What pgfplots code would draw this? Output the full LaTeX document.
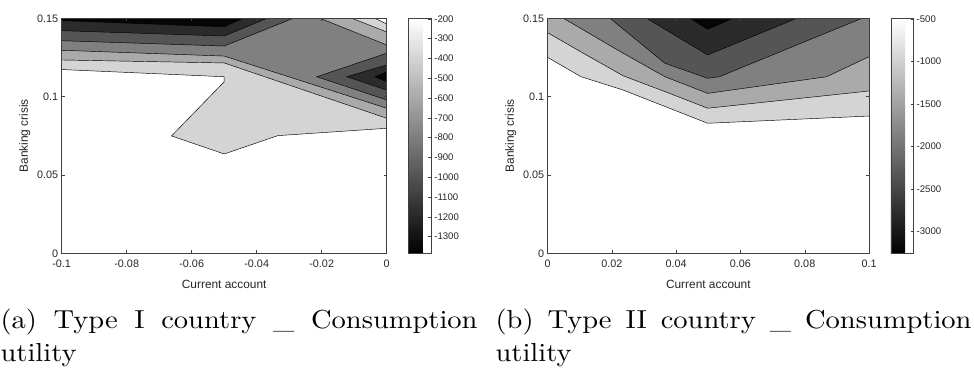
\documentclass[border=0pt]{standalone}
\usepackage{pgfplots}
\pgfplotsset{compat=1.18}
\usepackage{fontspec}
\newfontfamily\arial{Liberation Sans}

\definecolor{axgray}{HTML}{404040}
\definecolor{txt}{HTML}{262626}
% fill shades of the contour bands (light to dark)
\definecolor{lvA}{gray}{0.833}
\definecolor{lvB}{gray}{0.667}
\definecolor{lvC}{gray}{0.5}
\definecolor{lvD}{gray}{0.333}
\definecolor{lvE}{gray}{0.167}
\definecolor{lvF}{gray}{0.02}

\pgfplotsset{
  contourpanel/.style={
    scale only axis, height=235pt, axis on top,
    enlargelimits=false,
    axis line style={axgray, line width=0.5pt},
    tick style={axgray, line width=0.5pt},
    tick align=inside, major tick length=3.2pt, tick pos=both,
    ticklabel style={font=\arial\fontsize{10.8}{12}\selectfont, text=txt},
    xticklabel style={yshift=-3.5pt},
    label style={font=\arial\fontsize{11.9}{13}\selectfont, text=txt},
    xlabel style={yshift=-5pt},
    ymin=0, ymax=0.15,
    ytick={0,0.05,0.1,0.15}, yticklabels={0,0.05,0.1,0.15},
    ylabel={Banking crisis}, xlabel={Current account},
    colormap/blackwhite,
    colorbar,
    colorbar style={
      at={(parent axis.north east)}, anchor=north west, xshift=13.3pt,
      scale only axis, width=22.3pt,
      axis line style={axgray, line width=0.5pt},
      ytick style={axgray, line width=0.5pt},
      tick align=inside, major tick length=2.5pt,
      ytick pos=right, yticklabel pos=right,
      yticklabel style={font=\arial\fontsize{9.6}{11}\selectfont, text=txt},
    },
  },
  band/.style={draw=none, fill=#1, forget plot},
  cline/.style={black, line width=0.45pt, forget plot},
}
% sub-captions: 10pt text, enlarged
\tikzset{
  subcaption/.style={anchor=base west, inner sep=0pt, align=justify,
    xscale=2.85, yscale=2.6, text width=#1/2.85,
    font=\fontsize{10}{12.9}\selectfont},
}

\newcommand\subcap[1]{\tolerance=10000 \hbadness=10000 \hyphenpenalty=10000 #1\par}

\begin{document}
\begin{tikzpicture}
\useasboundingbox (0pt,0pt) rectangle (974pt,370pt);

% ---------------- Type I country ----------------
\begin{axis}[contourpanel,
  at={(61.7pt,116.7pt)}, anchor=south west, width=325pt,
  xmin=-0.1, xmax=0,
  xtick={-0.1,-0.08,-0.06,-0.04,-0.02,0},
  xticklabels={-0.1,-0.08,-0.06,-0.04,-0.02,0},
  point meta min=-1384, point meta max=-197,
  colorbar style={
    ytick={-1300,-1200,-1100,-1000,-900,-800,-700,-600,-500,-400,-300,-200},
    yticklabels={-1300,-1200,-1100,-1000,-900,-800,-700,-600,-500,-400,-300,-200},
  },
]
\addplot[band=lvA] coordinates {(-0.1,0.1173) (-0.05,0.1127) (-0.05,0.1095) (-0.0662,0.0749) (-0.05,0.0634) (-0.0335,0.0751) (0,0.0798) (0,0.1464) (-0.0036,0.15) (-0.1,0.15)};
\addplot[band=lvB] coordinates {(-0.1,0.1234) (-0.05,0.1215) (0,0.0862) (0,0.1413) (-0.0107,0.15) (-0.1,0.15)};
\addplot[band=lvC] coordinates {(-0.1,0.1296) (-0.05,0.1259) (0,0.0926) (0,0.1330) (-0.0205,0.15) (-0.1,0.15)};
\addplot[band=lvD] coordinates {(-0.1,0.1357) (-0.05,0.1323) (-0.0288,0.15) (-0.1,0.15)};
\addplot[band=lvD] coordinates {(-0.0215,0.1127) (0,0.1277) (0,0.0979)};
\addplot[band=lvE] coordinates {(-0.1,0.1421) (-0.05,0.1387) (-0.0368,0.15) (-0.1,0.15)};
\addplot[band=lvE] coordinates {(-0.0123,0.1127) (0,0.1202) (0,0.1042)};
\addplot[band=lvF] coordinates {(-0.1,0.1485) (-0.05,0.1446) (-0.0442,0.15) (-0.1,0.15)};
\addplot[band=lvF] coordinates {(-0.0036,0.1127) (0,0.1157) (0,0.1095)};
% contour lines
\addplot[cline] coordinates {(-0.1,0.1173) (-0.05,0.1127) (-0.05,0.1095) (-0.0662,0.0749) (-0.05,0.0634) (-0.0335,0.0751) (0,0.0798)};
\addplot[cline] coordinates {(-0.0036,0.15) (0,0.1464)};
\addplot[cline] coordinates {(-0.1,0.1234) (-0.05,0.1215) (0,0.0862)};
\addplot[cline] coordinates {(-0.0107,0.15) (0,0.1413)};
\addplot[cline] coordinates {(-0.1,0.1296) (-0.05,0.1259) (0,0.0926)};
\addplot[cline] coordinates {(-0.0205,0.15) (0,0.1330)};
\addplot[cline] coordinates {(-0.1,0.1357) (-0.05,0.1323) (-0.0288,0.15)};
\addplot[cline] coordinates {(0,0.1277) (-0.0215,0.1127) (0,0.0979)};
\addplot[cline] coordinates {(-0.1,0.1421) (-0.05,0.1387) (-0.0368,0.15)};
\addplot[cline] coordinates {(0,0.1202) (-0.0123,0.1127) (0,0.1042)};
\addplot[cline] coordinates {(-0.1,0.1485) (-0.05,0.1446) (-0.0442,0.15)};
\addplot[cline] coordinates {(0,0.1157) (-0.0036,0.1127) (0,0.1095)};
\end{axis}

% ---------------- Type II country ----------------
\begin{axis}[contourpanel,
  at={(547.7pt,116.7pt)}, anchor=south west, width=321.3pt,
  xmin=0, xmax=0.1,
  xtick={0,0.02,0.04,0.06,0.08,0.1},
  xticklabels={0,0.02,0.04,0.06,0.08,0.1},
  point meta min=-3254, point meta max=-492,
  colorbar style={
    ytick={-3000,-2500,-2000,-1500,-1000,-500},
    yticklabels={-3000,-2500,-2000,-1500,-1000,-500},
  },
]
\addplot[band=lvA] coordinates {(0,0.125) (0.0104,0.1127) (0.0235,0.1042) (0.0498,0.0830) (0.1,0.0876) (0.1,0.15) (0,0.15)};
\addplot[band=lvB] coordinates {(0,0.1408) (0.0104,0.1285) (0.0235,0.1133) (0.0365,0.1032) (0.0498,0.0926) (0.1,0.1036) (0.1,0.15) (0,0.15)};
\addplot[band=lvC] coordinates {(0.0049,0.15) (0.0235,0.1277) (0.0365,0.1127) (0.0498,0.1021) (0.0868,0.1127) (0.1,0.1255) (0.1,0.15)};
\addplot[band=lvD] coordinates {(0.0194,0.15) (0.0365,0.1213) (0.0498,0.1117) (0.0534,0.1127) (0.0978,0.15)};
\addplot[band=lvE] coordinates {(0.0308,0.15) (0.0498,0.1266) (0.0775,0.15)};
\addplot[band=lvF] coordinates {(0.0443,0.15) (0.0498,0.1430) (0.0577,0.15)};
% contour lines
\addplot[cline] coordinates {(0,0.125) (0.0104,0.1127) (0.0235,0.1042) (0.0498,0.0830) (0.1,0.0876)};
\addplot[cline] coordinates {(0,0.1408) (0.0104,0.1285) (0.0235,0.1133) (0.0365,0.1032) (0.0498,0.0926) (0.1,0.1036)};
\addplot[cline] coordinates {(0.0049,0.15) (0.0235,0.1277) (0.0365,0.1127) (0.0498,0.1021) (0.0868,0.1127) (0.1,0.1255)};
\addplot[cline] coordinates {(0.0194,0.15) (0.0365,0.1213) (0.0498,0.1117) (0.0534,0.1127) (0.0978,0.15)};
\addplot[cline] coordinates {(0.0308,0.15) (0.0498,0.1266) (0.0775,0.15)};
\addplot[cline] coordinates {(0.0443,0.15) (0.0498,0.1430) (0.0577,0.15)};
\end{axis}

% sub-captions
\node[subcaption=477pt] at (0pt,42pt)
  {\subcap{(a) Type I country \_ Consumption\linebreak utility}};
\node[subcaption=476pt] at (495pt,42pt)
  {\subcap{(b) Type II country \_ Consumption\linebreak utility}};
\end{tikzpicture}
\end{document}
